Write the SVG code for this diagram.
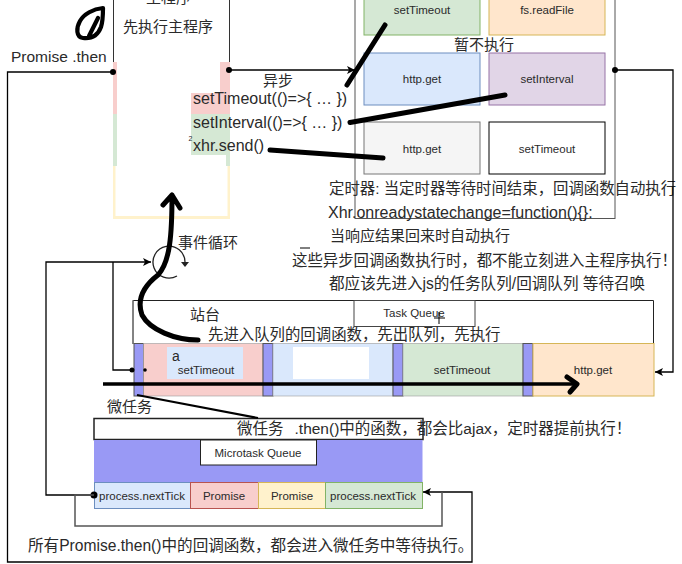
<svg xmlns="http://www.w3.org/2000/svg" width="682" height="564" viewBox="0 0 682 564">
<style>
text{font-family:"Liberation Sans","Noto Sans CJK SC",sans-serif;fill:#2a2a2a}
.s{font-size:11.500px;text-anchor:middle}.m{font-size:15px}.l{font-size:16px}.n{font-size:15.400px}
.c{fill:none;stroke:#000;stroke-width:1.300}
.g{fill:none;stroke:#555;stroke-width:1.500}
.b{fill:none;stroke:#000;stroke-width:5;stroke-linecap:round;stroke-linejoin:round}
.p{fill:#9999f5;stroke:#555;stroke-width:1}
.q{stroke:#999;stroke-width:.6}
</style>
<defs>
<marker id="a" markerWidth="9" markerHeight="8" refX="8" refY="4" orient="auto" markerUnits="userSpaceOnUse"><path d="M0,0L8,4L0,8L2,4Z" fill="#000"/></marker>
</defs>
<g id="main">
<rect x="113" y="62" width="117" height="52" fill="#f8cecc"/>
<rect x="113" y="114" width="117" height="52" fill="#d5e8d4"/>
<rect x="113" y="166" width="117" height="53" fill="#fff2cc"/>
<rect x="117" y="62" width="109" height="104" fill="#fff"/>
<rect x="115.500" y="166" width="112" height="50" fill="#fff"/>
<rect x="220" y="62" width="10" height="31" fill="#f8cecc"/>
<rect x="191" y="93" width="39" height="21" fill="#f8cecc"/>
<rect x="191" y="114" width="39" height="41" fill="#d5e8d4"/>
<path d="M113.500,0V62M229.500,0V62" stroke="#333" fill="none"/>
<text x="123" y="32" class="m">先执行主程序</text>
<text x="146" y="3" class="m">主程序</text>
<text x="11" y="62" style="font-size:15.500px">Promise .then</text>
<path d="M103,8C93,9 84,14 80,21C76,28 76,37 83,38C92,39 98,35 101,27C103,21 103,14 103,8ZM98,18C95,24 92,30 89,36" fill="none" stroke="#000" stroke-width="4.200" stroke-linejoin="round" stroke-linecap="round"/>
<text x="193" y="104" class="l">setTimeout(()=&gt;{ … })</text>
<text x="193" y="128" class="l">setInterval(()=&gt;{ … })</text>
<text x="193" y="151" class="l">xhr.send()</text>
<text x="188.500" y="141" style="font-size:7px">2</text>
<text x="263" y="86" class="m">异步</text>
</g>
<g id="timers">
<rect x="355" y="-20" width="260" height="238.500" fill="#fff" stroke="#555" stroke-width="1"/>
<rect x="364" y="-10" width="116" height="45" fill="#d5e8d4" stroke="#82b366"/>
<text x="422" y="14" class="s">setTimeout</text>
<rect x="489" y="-10" width="116" height="45" fill="#ffe6cc" stroke="#d6b656"/>
<text x="547" y="14" class="s">fs.readFile</text>
<text x="454" y="50" class="m">暂不执行</text>
<rect x="364" y="53" width="116" height="52" fill="#dae8fc" stroke="#6c8ebf"/>
<text x="422" y="83" class="s">http.get</text>
<rect x="489" y="53" width="116" height="52" fill="#e1d5e7" stroke="#9673a6"/>
<text x="547" y="83" class="s">setInterval</text>
<rect x="364" y="122" width="116" height="52" fill="#f5f5f5" stroke="#777"/>
<text x="422" y="153" class="s">http.get</text>
<rect x="489" y="122" width="116" height="52" fill="#fff" stroke="#000"/>
<text x="547" y="153" class="s">setTimeout</text>
</g>
<g id="notes">
<text x="329" y="194" class="n">定时器: 当定时器等待时间结束，回调函数自动执行</text>
<text x="328" y="218" class="l">Xhr.onreadystatechange=function(){}:</text>
<text x="330" y="241" class="m">当响应结果回来时自动执行</text>
<text x="292" y="266" class="n">这些异步回调函数执行时，都不能立刻进入主程序执行！</text>
<text x="329" y="289" style="font-size:15.600px">都应该先进入js的任务队列/回调队列 等待召唤</text>
<text x="178" y="248" class="m">事件循环</text>
<path d="M300,248H310" stroke="#000"/>
</g>
<g id="taskqueue">
<path d="M133,344V300.500H653.500V344" fill="none" stroke="#222"/>
<path d="M133,300V344" stroke="#777" fill="none"/>
<rect x="354" y="300.500" width="121" height="26" fill="#fff" stroke="#444"/>
<text x="414" y="317" class="s">Task Queue</text>
<path d="M439,312V324M434,318H445" stroke="#000" fill="none"/>
<text x="190" y="320" class="m">站台</text>
<text x="208" y="340" class="n">先进入队列的回调函数，先出队列，先执行</text>
<rect x="134" y="343.500" width="9.500" height="52.500" class="p"/>
<rect x="143.500" y="343.500" width="119.500" height="52.500" fill="#f8cecc" class="q"/>
<rect x="167" y="347" width="76" height="32" fill="#dae8fc"/>
<text x="172" y="361" style="font-size:14px">a</text>
<text x="206" y="374" class="s">setTimeout</text>
<rect x="263" y="343.500" width="10" height="52.500" class="p"/>
<rect x="273" y="343.500" width="120" height="52.500" fill="#dae8fc" class="q"/>
<rect x="293" y="347" width="76" height="32" fill="#fff"/>
<rect x="393" y="343.500" width="10" height="52.500" class="p"/>
<rect x="403" y="343.500" width="120" height="52.500" fill="#d5e8d4" class="q"/>
<text x="462" y="374" class="s">setTimeout</text>
<rect x="523" y="343.500" width="10" height="52.500" class="p"/>
<rect x="533" y="343.500" width="121" height="52.500" fill="#ffe6cc" stroke="#d6b656"/>
<text x="593" y="374" class="s">http.get</text>
</g>
<g id="microqueue">
<text x="107" y="412" class="m">微任务</text>
<rect x="94" y="418.500" width="329" height="21" fill="#fff" stroke="#222" stroke-width="1.500"/>
<text x="237" y="434" style="font-size:15.500px">微任务<tspan dx="11">.then()中的函数，都会比ajax，定时器提前执行！</tspan></text>
<rect x="94" y="440" width="328.500" height="42" fill="#9999f5"/>
<rect x="200.500" y="440" width="116" height="25" fill="#fff" stroke="#222"/>
<text x="258" y="457" class="s">Microtask Queue</text>
<rect x="94.500" y="482.500" width="96" height="26" fill="#dae8fc" stroke="#6c8ebf"/>
<text x="142" y="500" class="s">process.nextTick</text>
<rect x="190.500" y="482.500" width="68" height="26" fill="#f8cecc" stroke="#b85450"/>
<text x="224" y="500" class="s">Promise</text>
<rect x="258.500" y="482.500" width="67" height="26" fill="#fff2cc" stroke="#d6b656"/>
<text x="292" y="500" class="s">Promise</text>
<rect x="325.500" y="482.500" width="97" height="26" fill="#d5e8d4" stroke="#82b366"/>
<text x="373" y="500" class="s">process.nextTick</text>
<text x="28" y="551" style="font-size:15.600px">所有Promise.then()中的回调函数，都会进入微任务中等待执行。</text>
</g>
<g id="connectors">
<path class="c" d="M113,72H7.500V562H472V492H423" marker-end="url(#a)"/>
<circle cx="113" cy="72" r="3" fill="#000"/>
<path class="c" d="M229,70H355" marker-end="url(#a)"/>
<circle cx="229" cy="70" r="3" fill="#000"/>
<path class="c" d="M615,70H673V372H655" marker-end="url(#a)"/>
<circle cx="615" cy="70" r="3" fill="#000"/>
<path class="c" d="M94,495H46V262H151" marker-end="url(#a)"/>
<path class="c" d="M113,262V370H131"/>
<circle cx="132" cy="370" r="2.500" fill="#000"/>
<circle cx="145" cy="370" r="1.800" fill="#000"/>
<circle cx="94" cy="495" r="3.500" fill="#000"/>
<path class="g" d="M94,495H75V526H442V492"/>
<path d="M185,262A16,16 0 1 0 177,276" fill="none" stroke="#222" stroke-width="1.300"/>
<path d="M181,262L189,262L185,267Z" fill="#222"/>
<path d="M137,395L258,418" stroke="#000" stroke-width="2" fill="none"/>
</g>
<g id="strokes">
<path class="b" d="M385,25L347,85"/>
<path class="b" d="M350,122.500L505,95"/>
<path class="b" d="M270,150L383,158"/>
<path class="b" d="M198,340C175,340 150,330 142,315C136,298 145,285 158,275C170,262 172,235 172,195M163,205L172,195L180,208"/>
<path d="M103,384H575" stroke="#000" stroke-width="3.500" fill="none"/>
<path class="b" d="M567,377L577,384L570,392"/>
</g>
</svg>
